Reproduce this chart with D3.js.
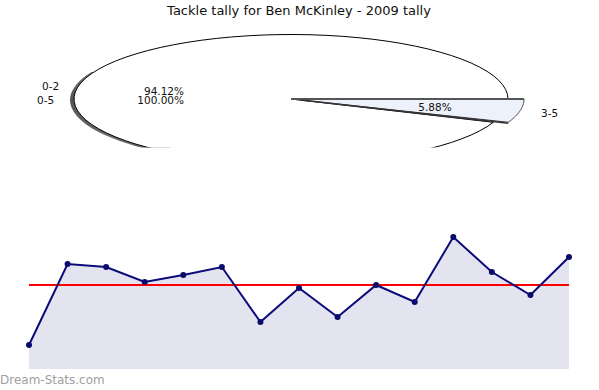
<!DOCTYPE html>
<html><head><meta charset="utf-8">
<script src="https://cdn.jsdelivr.net/npm/d3@7"></script>
<style>body{margin:0;background:#fff}svg{display:block}</style>
</head><body>
<svg id="c" width="599" height="390"></svg>
<script>
const title = "Tackle tally for Ben McKinley - 2009 tally";
const pieCategories = ["0-2", "3-5"];
const pieValues = [94.12, 5.88];
const extraLabel = "0-5";
const extraPct = "100.00%";
const games = d3.range(1, 16);
const values = [24, 105, 102, 87, 94, 102, 47, 81, 52, 84, 67, 132, 97, 74, 112];
const watermark = "Dream-Stats.com";

const svg = d3.select("#c");
const font = "DejaVu Sans, sans-serif";

svg.append("text").attr("x", 299).attr("y", 15).attr("text-anchor", "middle")
  .attr("font-family", font).attr("font-size", 13).attr("fill", "#111").text(title);

// ---- Pie (elliptical) ----
const cx = 291, cy = 99, rx = 217, ry = 64.5;
const defs = svg.append("defs");
defs.append("clipPath").attr("id", "pieclip").append("rect").attr("x", 0).attr("y", 20).attr("width", 599).attr("height", 127.5);
defs.append("clipPath").attr("id", "shadowclip").append("rect").attr("x", 0).attr("y", 72).attr("width", 170).attr("height", 90);
const grad = defs.append("linearGradient").attr("id", "shgrad").attr("x1", 0).attr("y1", 0).attr("x2", 0).attr("y2", 1);
grad.append("stop").attr("offset", "0%").attr("stop-color", "#9a9a9a");
grad.append("stop").attr("offset", "50%").attr("stop-color", "#555");
grad.append("stop").attr("offset", "100%").attr("stop-color", "#777");
const g = svg.append("g").attr("clip-path", "url(#pieclip)");

const total = d3.sum(pieValues);
const smallFrac = pieValues[1] / total;
const a0 = 0, a1 = smallFrac * 2 * Math.PI;
function ellPt(a, rxx, ryy) { return [cx + rxx * Math.cos(a), cy + ryy * Math.sin(a)]; }
function slicePath(s, e, rxx, ryy) {
  const p = d3.path();
  p.moveTo(cx, cy);
  const n = 80;
  for (let i = 0; i <= n; i++) {
    const a = s + (e - s) * i / n;
    const pt = ellPt(a, rxx, ryy);
    p.lineTo(pt[0], pt[1]);
  }
  p.closePath();
  return p.toString();
}
// shadow
g.append("ellipse").attr("clip-path", "url(#shadowclip)")
  .attr("cx", cx - 4).attr("cy", cy + 1).attr("rx", rx).attr("ry", ry)
  .attr("fill", "url(#shgrad)");
// big slice
g.append("path").attr("d", slicePath(a1, 2 * Math.PI, rx, ry))
  .attr("fill", "#fff").attr("stroke", "#000").attr("stroke-width", 1);
// small slice (exploded)
g.append("path").attr("d", slicePath(a0, a1, 233, 64.5))
  .attr("fill", "#edf1fc").attr("stroke", "#333").attr("stroke-width", 1);
g.append("line").attr("x1", cx).attr("y1", cy).attr("x2", cx + 233).attr("y2", cy)
  .attr("stroke", "#555").attr("stroke-width", 2);
const bc = ellPt(a1, 233, 64.5);
g.append("line").attr("x1", cx + 10).attr("y1", cy + 1).attr("x2", bc[0]).attr("y2", bc[1] + 1)
  .attr("stroke", "#333").attr("stroke-width", 1.5);

const fmt = v => v.toFixed(2) + "%";
const lab = svg.append("g").attr("font-family", font).attr("font-size", 10.5).attr("fill", "#111");
lab.append("text").attr("x", 42).attr("y", 90).text(pieCategories[0]);
lab.append("text").attr("x", 37).attr("y", 104).text(extraLabel);
lab.append("text").attr("x", 184).attr("y", 95).attr("text-anchor", "end").text(fmt(pieValues[0]));
lab.append("text").attr("x", 184).attr("y", 103.5).attr("text-anchor", "end").text(extraPct);
lab.append("text").attr("x", 435).attr("y", 110.5).attr("text-anchor", "middle").text(fmt(pieValues[1]));
lab.append("text").attr("x", 541).attr("y", 117).text(pieCategories[1]);

// ---- Area / line chart ----
const x = d3.scalePoint().domain(games).range([29, 569]);
const y = d3.scaleLinear().domain([0, 150]).range([369, 219]);
const data = games.map((gm, i) => ({ g: gm, v: values[i] }));
svg.append("path").datum(data)
  .attr("d", d3.area().x(d => x(d.g)).y0(y(0)).y1(d => y(d.v)))
  .attr("fill", "#e4e4f1");
const mean = d3.mean(values);
svg.append("line").attr("x1", x(games[0])).attr("x2", x(games[games.length - 1]))
  .attr("y1", y(mean)).attr("y2", y(mean)).attr("stroke", "#ff0000").attr("stroke-width", 2);
svg.append("path").datum(data)
  .attr("d", d3.line().x(d => x(d.g)).y(d => y(d.v)))
  .attr("fill", "none").attr("stroke", "#0a0a7a").attr("stroke-width", 2);
svg.selectAll("circle.pt").data(data).enter().append("circle")
  .attr("class", "pt").attr("cx", d => x(d.g)).attr("cy", d => y(d.v)).attr("r", 3)
  .attr("fill", "#0a0a6a");

svg.append("text").attr("x", 0).attr("y", 384).attr("font-family", font)
  .attr("font-size", 12).attr("fill", "#a0a0a0").text(watermark);
</script>
</body></html>
